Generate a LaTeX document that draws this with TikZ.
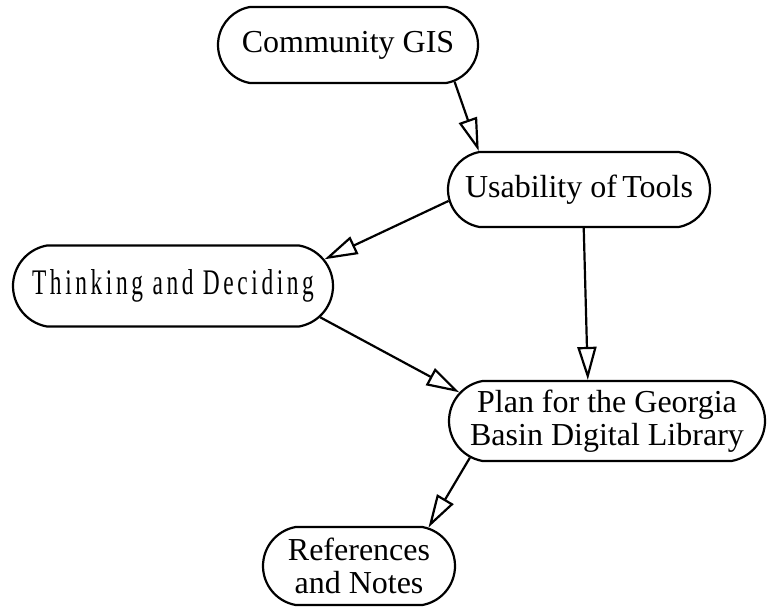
\documentclass[tikz,border=0pt]{standalone}
\usepackage{fontspec}
\setmainfont{Liberation Serif}
\newfontfamily\narrowserif[FakeStretch=0.65,LetterSpace=10]{Liberation Serif}
\usetikzlibrary{arrows.meta,shapes.misc}

\tikzset{
  topic/.style={draw, line width=2.2pt, rounded rectangle, rounded rectangle arc length=160,
    inner sep=0pt, align=center, font=\fontsize{32}{33}\selectfont},
  link/.style={line width=2.2pt, -{Triangle[open, length=33pt, width=19pt, line width=2.2pt]}}
}

\begin{document}
\begin{tikzpicture}[x=1pt, y=-1pt]
  \useasboundingbox (0,0) rectangle (767,607);

  % topic boxes
  \node[topic, minimum width=260pt, minimum height=76pt] (cg) at (348,45) {Community GIS};
  \node[topic, minimum width=262pt, minimum height=75pt] (ut) at (579,189.5) {Usability of\,Tools};
  \node[topic, minimum width=320pt, minimum height=81pt, font=\fontsize{36}{38}\narrowserif] (th) at (173,286) {Thinking and Deciding};
  \node[topic, minimum width=316pt, minimum height=80pt] (pl) at (607,421) {Plan for the Georgia\\Basin Digital Library};
  \node[topic, minimum width=192pt, minimum height=78pt] (rn) at (359,566) {References\\and Notes};

  % links between topics
  \draw[link] (cg.-19.9) -- (ut.159.8);
  \draw[link] (ut.185.8) -- (th.10.5);
  \draw[link] (ut.-83.9) -- (pl.115);
  \draw[link] (th.-12.8) -- (pl.169.4);
  \draw[link] (pl.195.1) -- (rn.29.2);
\end{tikzpicture}
\end{document}
